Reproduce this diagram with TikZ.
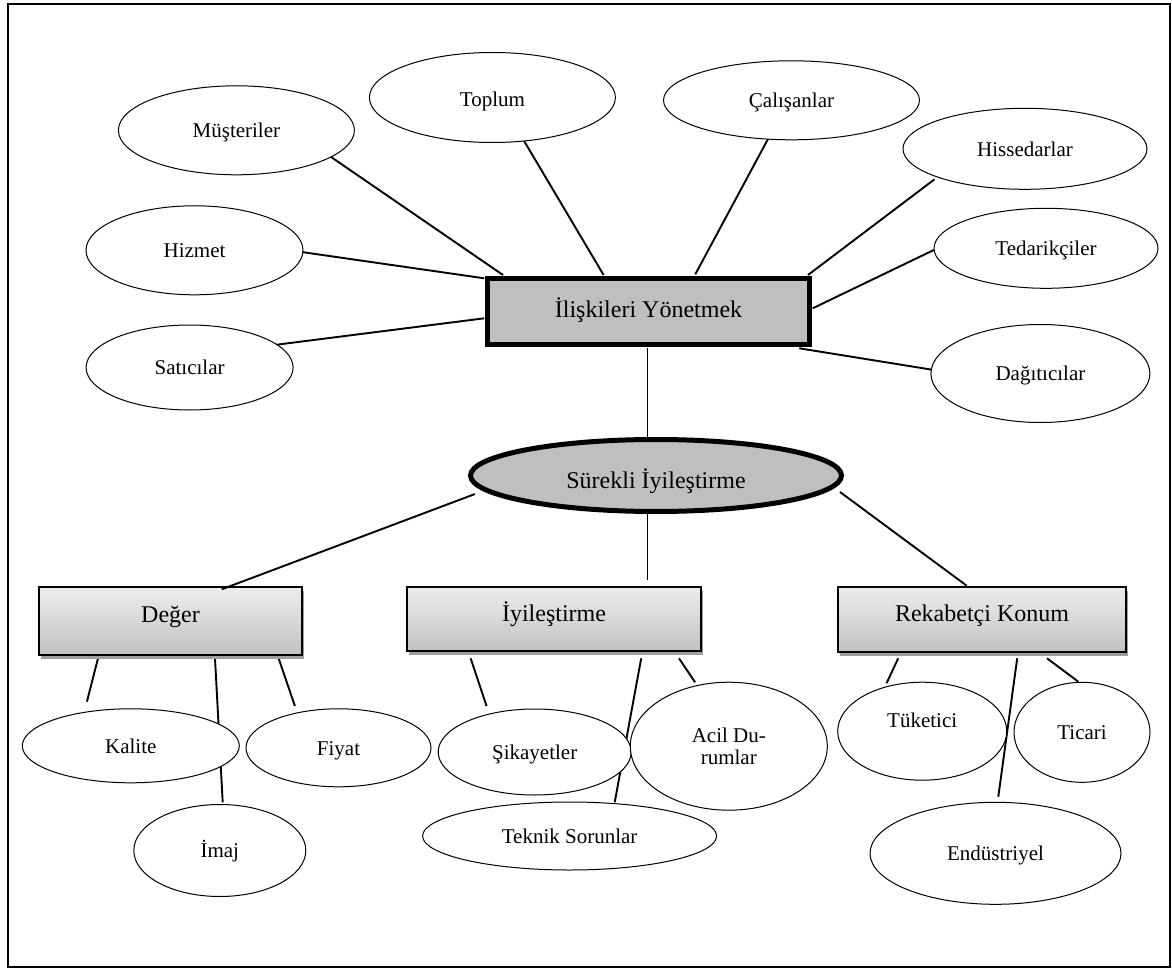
\documentclass[tikz,border=0pt]{standalone}
\usepackage{fontspec}
\setmainfont{Liberation Serif}
\usetikzlibrary{shapes.geometric,calc,shadows,backgrounds}
\begin{document}
\begin{tikzpicture}[x=1pt,y=-1pt,
  ell/.style={ellipse, draw, line width=1pt, fill=white, inner sep=0pt,
    font=\fontsize{21}{24}\selectfont, text height=14.7pt, text depth=0pt},
  gbox/.style={rectangle, draw, line width=1.8pt,
    top color=white!93!black, bottom color=white!76!black,
    drop shadow={shadow xshift=2pt, shadow yshift=-4pt, fill=black!38, opacity=1},
    inner sep=0pt, font=\fontsize{24}{28}\selectfont, text height=16.8pt, text depth=0pt},
  mainbox/.style={rectangle, draw, line width=5pt, fill=white!75!black, inner sep=0pt,
    font=\fontsize{24}{28}\selectfont, text height=16.8pt, text depth=0pt},
  mainell/.style={ellipse, draw, line width=5pt, fill=white!75!black, inner sep=0pt,
    font=\fontsize{24}{28}\selectfont, text height=16.8pt, text depth=0pt},
  con/.style={line width=1.9pt}]

\useasboundingbox (0,0) rectangle (1172,968);
\draw[line width=2pt] (8,4.5) rectangle (1170,966.5);

% central nodes
\node[mainbox, minimum width=322pt, minimum height=66pt] (main) at (648.5,311.5) {\raisebox{2.5pt}{İlişkileri Yönetmek}};
\node[mainell, minimum width=371pt, minimum height=72pt] (sur) at (656,475.5) {\raisebox{-4.5pt}{Sürekli İyileştirme}};

% boxes
\node[gbox, minimum width=263pt, minimum height=68pt] (deg) at (170.5,621) {\raisebox{7pt}{Değer}};
\node[gbox, minimum width=294pt, minimum height=64pt] (iyi) at (554,619) {\raisebox{6pt}{İyileştirme}};
\node[gbox, minimum width=288pt, minimum height=65pt] (rek) at (982,619.5) {\raisebox{6pt}{Rekabetçi Konum}};

% top ellipses
\node[ell, minimum width=236pt, minimum height=89pt] (mus) at (236.4,130.3) {Müşteriler};
\node[ell, minimum width=246pt, minimum height=90pt] (top) at (492.4,97.5) {\raisebox{-2pt}{Toplum}};
\node[ell, minimum width=217pt, minimum height=89pt] (hiz) at (194.5,250.3) {Hizmet};
\node[ell, minimum width=207pt, minimum height=85pt] (sat) at (189.6,367.5) {Satıcılar};
\node[ell, minimum width=256pt, minimum height=79pt] (cal) at (791.5,100.3) {Çalışanlar};
\node[ell, minimum width=244pt, minimum height=81pt] (his) at (1025,148.8) {Hissedarlar};
\node[ell, minimum width=224pt, minimum height=80pt] (ted) at (1046,248.3) {Tedarikçiler};
\node[ell, minimum width=219pt, minimum height=98pt] (dag) at (1040.4,373.5) {Dağıtıcılar};

% bottom ellipses
\node[ell, minimum width=217pt, minimum height=74pt] (kal) at (130.8,745.8) {Kalite};
\node[ell, minimum width=185pt, minimum height=78pt] (fiy) at (338.5,747.8) {Fiyat};
\node[ell, minimum width=172pt, minimum height=92pt] (ima) at (219.8,850.5) {İmaj};
\node[ell, minimum width=193pt, minimum height=86pt] (sik) at (534.7,752) {Şikayetler};
\node[ell, minimum width=294pt, minimum height=68pt] (tek) at (569.6,836) {Teknik Sorunlar};
\node[ell, minimum width=197pt, minimum height=128pt, text height=, text depth=, align=center,
  font=\fontsize{21}{22}\selectfont] (aci) at (728.8,746.2) {Acil Du-\\rumlar};
\node[ell, minimum width=169pt, minimum height=98pt] (tuk) at (922.2,731.2) {\raisebox{11pt}{Tüketici}};
\node[ell, minimum width=136pt, minimum height=100pt] (tic) at (1082,732.3) {Ticari};
\node[ell, minimum width=251pt, minimum height=102pt] (end) at (995.5,853.3) {Endüstriyel};

\begin{scope}[on background layer]
\draw[con] ($(mus)+(93.2,25.7)$) -- ($(main)+(-145.5,-36.5)$);
\draw[con] ($(top)+(30.1,40.8)$) -- ($(main)+(-44.9,-36.5)$);
\draw[con] ($(hiz)+(100.1,0.7)$) -- ($(main)+(-164.2,-33.2)$);
\draw[con] ($(sat)+(84.7,-22.5)$) -- ($(main)+(-164.2,6.8)$);
\draw[con] ($(cal)+(-23.5,38.7)$) -- ($(main)+(46.8,-37.2)$);
\draw[con] ($(his)+(-90.5,30.5)$) -- ($(main)+(159.5,-36.5)$);
\draw[con] ($(ted)+(-112.2,1.7)$) -- ($(main)+(164.2,-3.2)$);
\draw[con] ($(dag)+(-106.6,-3.5)$) -- ($(main)+(150.8,36.8)$);
\draw[con] ($(main)+(-1,36.5)$) -- ($(sur)+(-8.5,-37.5)$);
\draw[con] ($(sur)+(-8.5,38.5)$) -- ($(iyi)+(93.5,-39)$);
\draw[con] ($(sur)+(184,16.5)$) -- ($(rek)+(-15.3,-33.8)$);
\draw[con] ($(deg)+(-72.5,37.3)$) -- ($(kal)+(-43.9,-44.1)$);
\draw[con] ($(deg)+(44.5,37.3)$) -- ($(ima)+(2.9,-48.2)$);
\draw[con] ($(deg)+(108.1,37.3)$) -- ($(fiy)+(-43.6,-41.8)$);
\draw[con] ($(iyi)+(-83.4,39.3)$) -- ($(sik)+(-48.2,-46)$);
\draw[con] ($(iyi)+(87.2,39.3)$) -- ($(tek)+(45.1,-33.7)$);
\draw[con] ($(iyi)+(125,39.3)$) -- ($(aci)+(-33.7,-63.9)$);
\draw[con] ($(rek)+(-83.8,38.8)$) -- ($(tuk)+(-35.7,-47.9)$);
\draw[con] ($(rek)+(35.2,38.8)$) -- ($(end)+(2.8,-56.6)$);
\draw[con] ($(rek)+(65,38.8)$) -- ($(tic)+(-3.7,-50.6)$);
\end{scope}
\draw[con] ($(sur)+(-181,18.5)$) -- ($(deg)+(51.2,-31.7)$);

\end{tikzpicture}
\end{document}
